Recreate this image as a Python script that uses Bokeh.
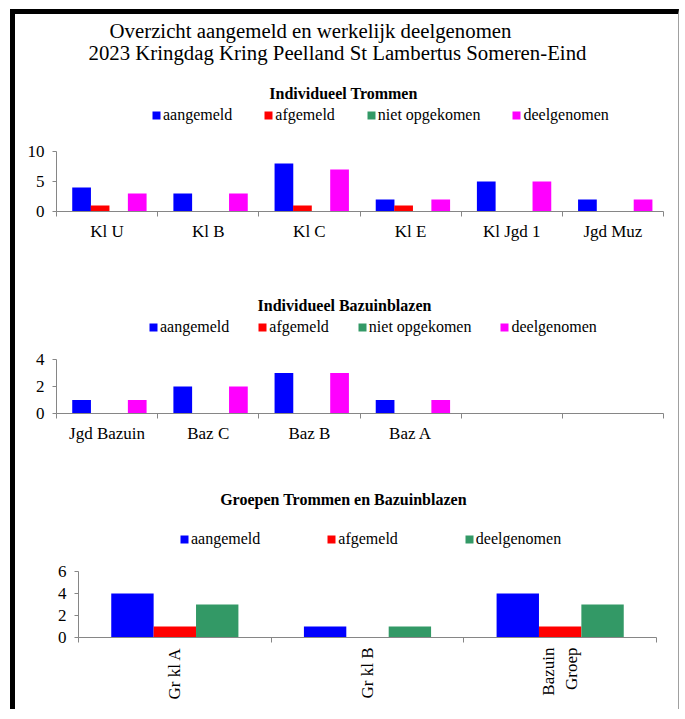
import numpy as np
from bokeh.plotting import figure
from bokeh.models import Range1d, FixedTicker, Label, Legend, LegendItem, ColumnDataSource
from bokeh.embed import file_html
from bokeh.resources import INLINE

# ---------------- data ----------------
main_title_1 = "Overzicht aangemeld en werkelijk deelgenomen"
main_title_2 = "2023 Kringdag Kring Peelland St Lambertus Someren-Eind"

series_names_4 = ["aangemeld", "afgemeld", "niet opgekomen", "deelgenomen"]
series_names_3 = ["aangemeld", "afgemeld", "deelgenomen"]

trom_title = "Individueel Trommen"
trom_cats = ["Kl U", "Kl B", "Kl C", "Kl E", "Kl Jgd 1", "Jgd Muz"]
trom_aangemeld = [4, 3, 8, 2, 5, 2]
trom_afgemeld = [1, 0, 1, 1, 0, 0]
trom_niet_opgekomen = [0, 0, 0, 0, 0, 0]
trom_deelgenomen = [3, 3, 7, 2, 5, 2]
trom_yticks = [0, 5, 10]

baz_title = "Individueel Bazuinblazen"
baz_cats = ["Jgd Bazuin", "Baz C", "Baz B", "Baz A"]
baz_slots = 6
baz_aangemeld = [1, 2, 3, 1]
baz_afgemeld = [0, 0, 0, 0]
baz_niet_opgekomen = [0, 0, 0, 0]
baz_deelgenomen = [1, 2, 3, 1]
baz_yticks = [0, 2, 4]

grp_title = "Groepen Trommen en Bazuinblazen"
grp_cats = ["Gr kl A", "Gr kl B", "Bazuin\nGroep"]
grp_aangemeld = [4, 1, 4]
grp_afgemeld = [1, 0, 1]
grp_deelgenomen = [3, 1, 3]
grp_yticks = [0, 2, 4, 6]

# ---------------- style ----------------
BLUE, RED, GREEN, MAGENTA = "#0000FF", "#FF0000", "#339966", "#FF00FF"
FONT = "Liberation Serif"
AXIS_COLOR = "#868686"
W = 669


def make_chart(cats, n_slots, series, colors, names, offsets, bar_w, yticks,
               height, left, right, bottom, axis_px, label_standoff,
               label_orient=0.0, styles=None):
    frame_h = height - bottom
    ymax = yticks[-1]
    y_end = ymax * frame_h / axis_px   # axis part occupies axis_px at the bottom of the frame
    p = figure(width=W, height=height, output_backend="svg", toolbar_location=None,
               x_range=Range1d(0.5, n_slots + 0.5), y_range=Range1d(yticks[0], y_end),
               min_border_left=left, min_border_right=right,
               min_border_top=0, min_border_bottom=bottom,
               styles=styles or {})
    p.outline_line_color = None
    p.xgrid.visible = False
    p.ygrid.visible = False
    p.background_fill_color = "white"
    p.border_fill_color = "white"

    renderers = []
    xs = np.arange(1, len(cats) + 1, dtype=float)
    for vals, col, name, off in zip(series, colors, names, offsets):
        src = ColumnDataSource(dict(x=xs + off, top=vals))
        r = p.vbar(x="x", top="top", width=bar_w, bottom=0, source=src,
                   fill_color=col, line_color=None)
        renderers.append((name, r))

    xa = p.xaxis[0]
    xa.ticker = FixedTicker(ticks=list(range(1, len(cats) + 1)),
                            minor_ticks=[i + 0.5 for i in range(n_slots + 1)])
    xa.major_label_overrides = {i + 1: c for i, c in enumerate(cats)}
    xa.major_tick_out = 0
    xa.major_tick_in = 0
    xa.minor_tick_out = 5
    xa.minor_tick_in = 0
    xa.minor_tick_line_color = AXIS_COLOR
    xa.axis_line_color = AXIS_COLOR
    xa.major_label_text_font = FONT
    xa.major_label_text_font_size = "17px"
    xa.major_label_text_color = "black"
    xa.major_label_standoff = label_standoff
    if label_orient:
        xa.major_label_orientation = label_orient

    ya = p.yaxis[0]
    ya.ticker = FixedTicker(ticks=yticks, minor_ticks=[])
    ya.bounds = (yticks[0], ymax)
    ya.major_tick_out = 4
    ya.major_tick_in = 0
    ya.major_tick_line_color = AXIS_COLOR
    ya.axis_line_color = AXIS_COLOR
    ya.major_label_text_font = FONT
    ya.major_label_text_font_size = "17px"
    ya.major_label_text_color = "black"
    ya.major_label_standoff = 8
    return p, renderers


def add_legend(p, renderers, x, y, spacing):
    items = [LegendItem(label=n, renderers=[r]) for n, r in renderers]
    lg = Legend(items=items, orientation="horizontal", location=(x, y),
                padding=0, margin=0, spacing=spacing, glyph_width=10, glyph_height=10,
                label_standoff=2, label_height=16, border_line_color=None,
                background_fill_alpha=0)
    lg.label_text_font = FONT
    lg.label_text_font_size = "16px"
    lg.label_text_color = "black"
    p.add_layout(lg)


def add_text(p, text, x, y, size, bold=False):
    p.add_layout(Label(x=x, y=y, x_units="screen", y_units="screen", text=text,
                       text_align="center", text_baseline="middle", text_font=FONT,
                       text_font_size=size, text_font_style="bold" if bold else "normal",
                       text_color="black"))


off4 = [-0.252, -0.069, 0.115, 0.298]
off3 = [-0.22, 0.0, 0.22]

side_styles = {"margin-left": "10px", "border-left": "5px solid black",
               "border-right": "1px solid #a0a0a0"}
top_styles = dict(side_styles, **{"margin-top": "9px", "border-top": "5px solid black"})
pad_styles = dict(side_styles, **{"padding-top": "5px"})

# chart 1
p1, r1 = make_chart(trom_cats, len(trom_cats),
                    [trom_aangemeld, trom_afgemeld, trom_niet_opgekomen, trom_deelgenomen],
                    [BLUE, RED, GREEN, MAGENTA], series_names_4, off4, 0.185, trom_yticks,
                    251, 41, 21, 54, 60, 5, styles=top_styles)
add_text(p1, main_title_1, 254, 181, "20.8px")
add_text(p1, main_title_2, 281, 159, "20.8px")
add_text(p1, trom_title, 287, 118, "16px", bold=True)
add_legend(p1, r1, 95, 87, 31)

# chart 2
p2, r2 = make_chart(baz_cats, baz_slots,
                    [baz_aangemeld, baz_afgemeld, baz_niet_opgekomen, baz_deelgenomen],
                    [BLUE, RED, GREEN, MAGENTA], series_names_4, off4, 0.185, baz_yticks,
                    190, 41, 21, 42, 54, 5, styles=pad_styles)
add_text(p2, baz_title, 288, 108, "16px", bold=True)
add_legend(p2, r2, 92, 77, 28)

# chart 3
p3, r3 = make_chart(grp_cats, len(grp_cats),
                    [grp_aangemeld, grp_afgemeld, grp_deelgenomen],
                    [BLUE, RED, GREEN], series_names_3, off3, 0.22, grp_yticks,
                    259, 63, 28, 77, 66, 5, label_orient=np.pi / 2, styles=pad_styles)
add_text(p3, grp_title, 265, 138, "16px", bold=True)
add_legend(p3, r3, 101, 89, 66)

open("out.html", "w").write(file_html([p1, p2, p3], INLINE))
